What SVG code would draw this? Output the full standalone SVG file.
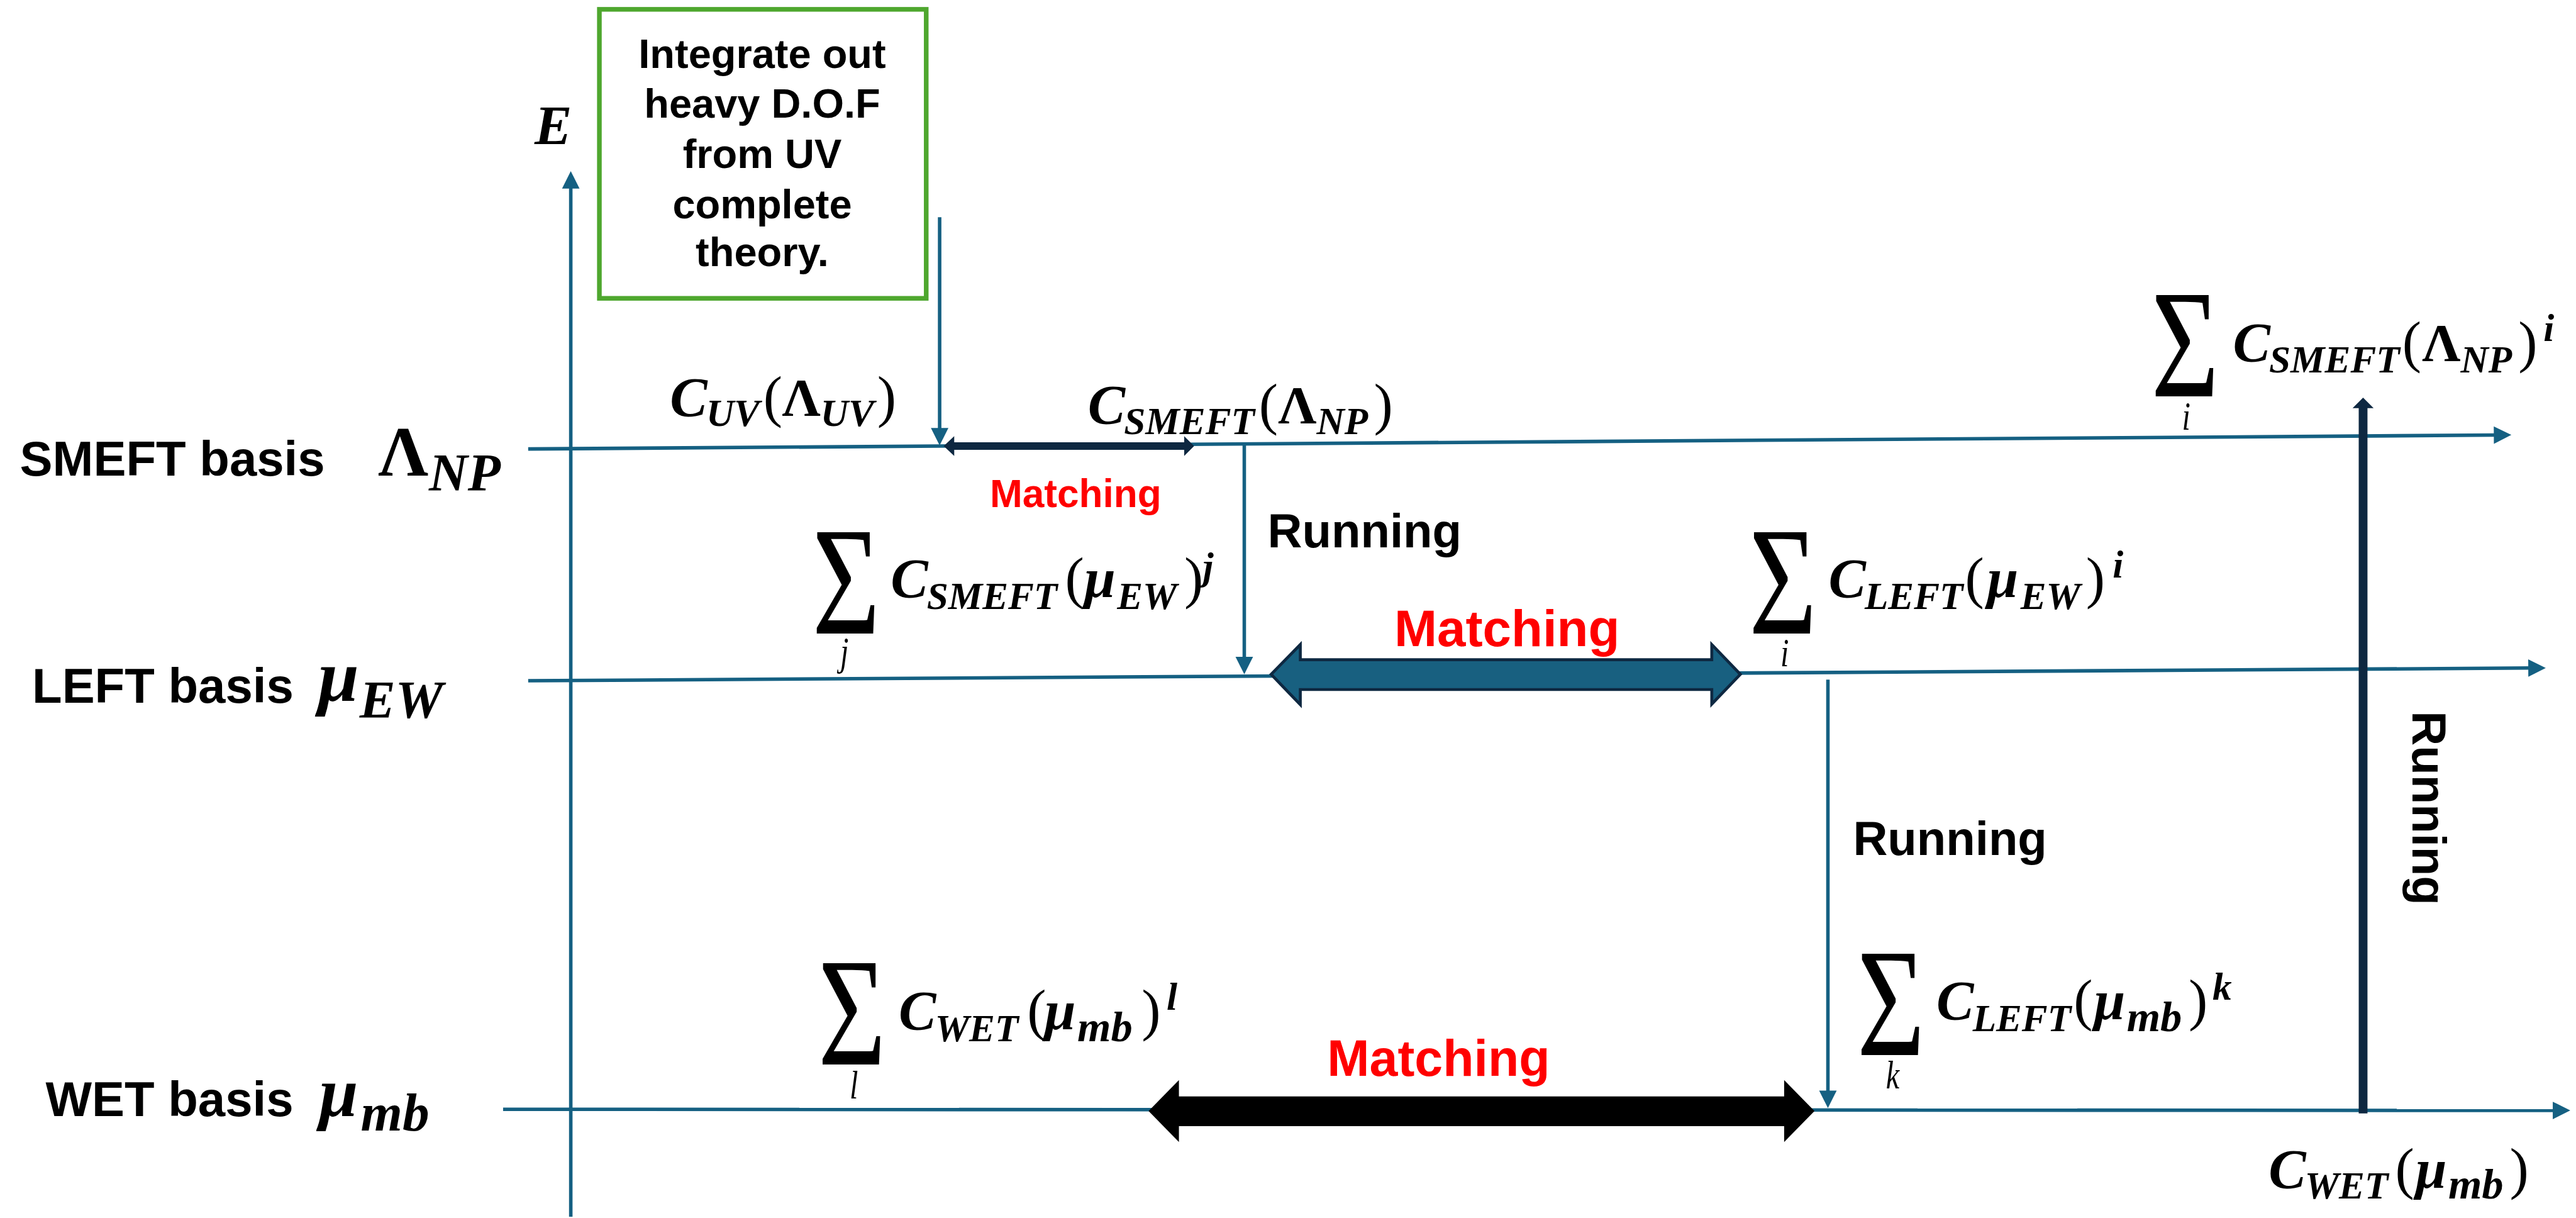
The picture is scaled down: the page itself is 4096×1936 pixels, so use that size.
<svg xmlns="http://www.w3.org/2000/svg" width="4096" height="1936" viewBox="0 0 4096 1936">
<style>
.sans{font-family:"Liberation Sans",Arial,sans-serif;font-weight:bold;fill:#000}
.lbl{font-size:84px}
.run{font-size:82px}
.red{fill:#ff0000}
.box{font-size:70px;text-anchor:middle}
.m{font-family:"Liberation Serif","Times New Roman",serif;font-weight:bold;font-style:italic;font-size:96px;fill:#000}
.s{font-size:66px}
.mb{font-size:74px}
.up{font-style:normal;font-size:92px}
.p{font-style:normal;font-weight:normal;font-size:98px}
.sig{font-family:"Liberation Serif","Times New Roman",serif;font-size:200px;text-anchor:middle;fill:#000}
.idx{font-style:italic;font-size:52px}
.ln{stroke:#156082;stroke-width:6;fill:none;marker-end:url(#ah)}
</style>
<defs>
<marker id="ah" markerUnits="userSpaceOnUse" markerWidth="32" markerHeight="30" refX="2" refY="15" orient="auto" overflow="visible"><path d="M0,0 L30,15 L0,30 z" fill="#156082"/></marker>
<marker id="ahd" markerUnits="userSpaceOnUse" markerWidth="20" markerHeight="36" refX="1" refY="18" orient="auto" overflow="visible"><path d="M0,0 L18,18 L0,36 z" fill="#0e2841"/></marker>
</defs>
<rect width="4096" height="1936" fill="#ffffff"/>
<g transform="scale(0.928)">
<g id="connectors">
<line class="ln" x1="978" y1="2084" x2="978" y2="321"/>
<line class="ln" x1="905" y1="769" x2="4275" y2="745.2"/>
<line class="ln" x1="905" y1="1166" x2="4334" y2="1144.2"/>
<line class="ln" x1="862" y1="1900" x2="4376" y2="1902"/>
<line class="ln" x1="1610" y1="372" x2="1610" y2="735"/>
<line class="ln" x1="2132" y1="760" x2="2132" y2="1127"/>
<line class="ln" x1="3132" y1="1164" x2="3132" y2="1870"/>
<line x1="4049" y1="1907" x2="4049" y2="698" stroke="#0e2841" stroke-width="15" marker-end="url(#ahd)"/>
<polygon id="match-smeft" points="1617,764 1635,747 1635,757.5 2029,757.5 2029,747 2046,764 2029,781 2029,770.5 1635,770.5 1635,781" fill="#0e2841"/>
<polygon id="match-left" points="2178,1155 2228,1104 2228,1130 2933,1130 2933,1104 2982,1155 2933,1206 2933,1181 2228,1181 2228,1207" fill="#186080" stroke="#0e2841" stroke-width="5"/>
<polygon id="match-wet" points="1968,1903 2020,1850 2020,1878 3057,1878 3057,1850 3109,1903 3057,1956 3057,1929 2020,1929 2020,1956" fill="#000000"/>
</g>
<g id="uv-box">
<rect x="1027" y="16" width="560" height="495" fill="#ffffff" stroke="#4ea72e" stroke-width="8"/>
<text class="sans box" x="1306" y="116">Integrate out</text>
<text class="sans box" x="1306" y="201">heavy D.O.F</text>
<text class="sans box" x="1306" y="288">from UV</text>
<text class="sans box" x="1306" y="374">complete</text>
<text class="sans box" x="1306" y="456">theory.</text>
</g>
<g id="axis-label"><text class="m" x="916" y="247" font-size="121">E</text></g>
<g id="smeft-level">
<text class="sans lbl" x="34" y="815">SMEFT basis</text>
<text class="m"><tspan x="648" y="815" font-size="120" font-style="normal">Λ</tspan><tspan x="735" y="841" font-size="92">NP</tspan></text>
</g>
<g id="left-level">
<text class="sans lbl" x="55" y="1204">LEFT basis</text>
<text class="m"><tspan x="545" y="1200" font-size="126">μ</tspan><tspan x="616" y="1229" font-size="92">EW</tspan></text>
</g>
<g id="wet-level">
<text class="sans lbl" x="78" y="1912">WET basis</text>
<text class="m"><tspan x="547" y="1912" font-size="120">μ</tspan><tspan x="618" y="1936" font-size="92">mb</tspan></text>
</g>
<g id="c-uv">
<text class="m"><tspan x="1148" y="712">C</tspan><tspan class="s" x="1210" y="730">UV</tspan><tspan class="p" x="1308" y="712">(</tspan><tspan class="up" x="1340" y="712">Λ</tspan><tspan class="s" x="1406" y="730">UV</tspan><tspan class="p" x="1503" y="712">)</tspan></text>
</g>
<g id="c-smeft-np">
<text class="m"><tspan x="1864" y="725">C</tspan><tspan class="s" x="1926" y="744">SMEFT</tspan><tspan class="p" x="2157" y="725">(</tspan><tspan class="up" x="2190" y="725">Λ</tspan><tspan class="s" x="2256" y="744">NP</tspan><tspan class="p" x="2354" y="725">)</tspan></text>
</g>
<g id="sum-smeft-np">
<text class="sig" transform="translate(3744,679) scale(1,1.33)">Σ<tspan class="idx" x="2" y="43">i</tspan></text>
<text class="m"><tspan x="3826" y="619">C</tspan><tspan class="s" x="3888" y="638">SMEFT</tspan><tspan class="p" x="4116" y="619">(</tspan><tspan class="up" x="4150" y="619">Λ</tspan><tspan class="s" x="4216" y="638">NP</tspan><tspan class="p" x="4315" y="619">)</tspan><tspan class="s" x="4358" y="584">i</tspan></text>
</g>
<g id="sum-smeft-ew">
<text class="sig" transform="translate(1450,1085) scale(1,1.33)">Σ<tspan class="idx" x="-3" y="41">j</tspan></text>
<text class="m"><tspan x="1526" y="1023">C</tspan><tspan class="s" x="1588" y="1043">SMEFT</tspan><tspan class="p" x="1825" y="1023">(</tspan><tspan x="1858" y="1023">μ</tspan><tspan class="s" x="1914" y="1043">EW</tspan><tspan class="p" x="2029" y="1023">)</tspan><tspan class="s" x="2061" y="992">j</tspan></text>
</g>
<g id="sum-left-ew">
<text class="sig" transform="translate(3055,1085) scale(1,1.33)">Σ<tspan class="idx" x="3" y="42">i</tspan></text>
<text class="m"><tspan x="3133" y="1023">C</tspan><tspan class="s" x="3195" y="1043">LEFT</tspan><tspan class="p" x="3367" y="1023">(</tspan><tspan x="3405" y="1023">μ</tspan><tspan class="s" x="3462" y="1043">EW</tspan><tspan class="p" x="3574" y="1023">)</tspan><tspan class="s" x="3620" y="989">i</tspan></text>
</g>
<g id="sum-wet-mb">
<text class="sig" transform="translate(1460,1823) scale(1,1.33)">Σ<tspan class="idx" x="3" y="44">l</tspan></text>
<text class="m"><tspan x="1540" y="1763">C</tspan><tspan class="s" x="1602" y="1783">WET</tspan><tspan class="p" x="1760" y="1763">(</tspan><tspan x="1790" y="1763">μ</tspan><tspan class="mb" x="1846" y="1783">mb</tspan><tspan class="p" x="1956" y="1763">)</tspan><tspan class="s" x="1999" y="1729">l</tspan></text>
</g>
<g id="sum-left-mb">
<text class="sig" transform="translate(3240,1807) scale(1,1.33)">Σ<tspan class="idx" x="3" y="43">k</tspan></text>
<text class="m"><tspan x="3318" y="1746">C</tspan><tspan class="s" x="3380" y="1766">LEFT</tspan><tspan class="p" x="3553" y="1746">(</tspan><tspan x="3588" y="1746">μ</tspan><tspan class="mb" x="3644" y="1766">mb</tspan><tspan class="p" x="3750" y="1746">)</tspan><tspan class="s" x="3791" y="1712">k</tspan></text>
</g>
<g id="c-wet-mb">
<text class="m"><tspan x="3887" y="2034">C</tspan><tspan class="s" x="3949" y="2053">WET</tspan><tspan class="p" x="4104" y="2034">(</tspan><tspan x="4139" y="2034">μ</tspan><tspan class="mb" x="4195" y="2053">mb</tspan><tspan class="p" x="4300" y="2034">)</tspan></text>
</g>
<g id="labels">
<text class="sans red" x="1696" y="869" font-size="67">Matching</text>
<text class="sans red" x="2389" y="1107" font-size="88">Matching</text>
<text class="sans red" x="2274" y="1843" font-size="87">Matching</text>
<text class="sans run" x="2172" y="937">Running</text>
<text class="sans run" x="3175" y="1464">Running</text>
<text class="sans run" transform="translate(4134,1218) rotate(90)">Running</text>
</g>
</g>
</svg>
